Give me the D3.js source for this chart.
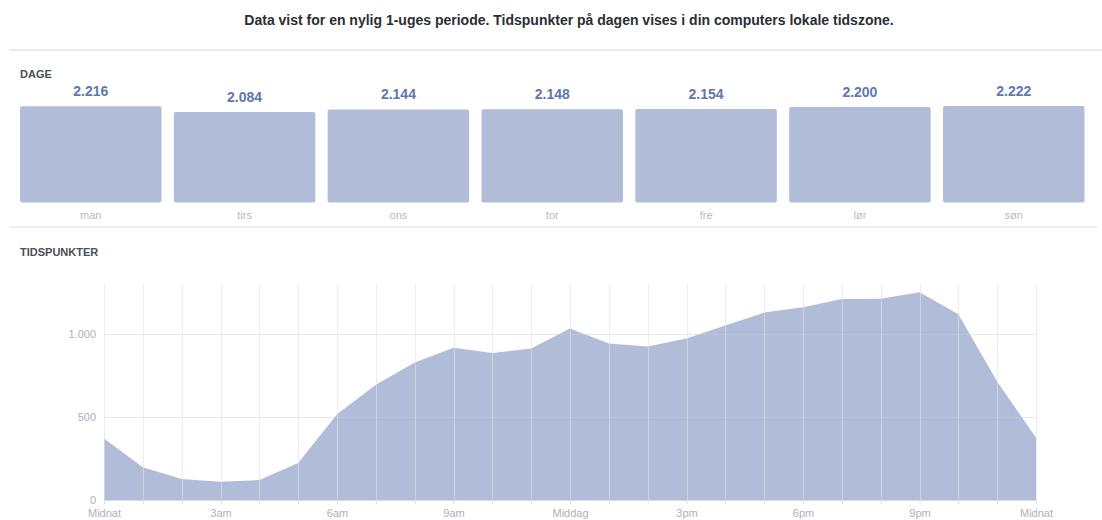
<!DOCTYPE html>
<html>
<head>
<meta charset="utf-8">
<script src="https://cdn.jsdelivr.net/npm/d3@7"></script>
<style>
  body { margin: 0; background: #fff; }
  svg { display: block; font-family: "Liberation Sans", Arial, sans-serif; }
</style>
</head>
<body>
<div id="chart-container"></div>
<script>
// Days of the week and their counts
const days = ["man", "tirs", "ons", "tor", "fre", "lør", "søn"];
const dayValues = [2216, 2084, 2144, 2148, 2154, 2200, 2222];

// Hourly values, midnight to midnight (25 points)
const hours = d3.range(0, 25);
const hourValues = [370, 197, 127, 110, 120, 223, 516, 693, 827, 916, 885, 912,
  1032, 942, 924, 972, 1050, 1128, 1160, 1209, 1211, 1251, 1118, 713, 375];

// Tick labels
const hourTicks = [0, 3, 6, 9, 12, 15, 18, 21, 24];
const hourTickLabels = ["Midnat", "3am", "6am", "9am", "Middag", "3pm", "6pm", "9pm", "Midnat"];
const valueTicks = [0, 500, 1000];

const title = "Data vist for en nylig 1-uges periode. Tidspunkter på dagen vises i din computers lokale tidszone.";

const width = 1102, height = 520;
const da = d3.formatLocale({ decimal: ",", thousands: ".", grouping: [3], currency: ["", " kr."] });
const fmt = da.format(",d");

const barColor = "#b1bdd8";

const svg = d3.select("#chart-container")
  .append("svg")
  .attr("width", width)
  .attr("height", height);

// Headline
svg.append("text")
  .attr("x", 569)
  .attr("y", 25)
  .attr("text-anchor", "middle")
  .style("font-size", "14px")
  .style("font-weight", "bold")
  .style("fill", "#2b2e33")
  .text(title);

// Separators
svg.append("line")
  .attr("x1", 9).attr("x2", width)
  .attr("y1", 50).attr("y2", 50)
  .attr("stroke", "#e9eaed").attr("stroke-width", 2);

svg.append("line")
  .attr("x1", 9).attr("x2", 1097)
  .attr("y1", 227).attr("y2", 227)
  .attr("stroke", "#e9eaed").attr("stroke-width", 1.5);

// Section labels
svg.append("text")
  .attr("x", 20).attr("y", 78)
  .style("font-size", "11px").style("font-weight", "bold")
  .style("fill", "#4b4f56")
  .text("DAGE");

svg.append("text")
  .attr("x", 20).attr("y", 256)
  .style("font-size", "11px").style("font-weight", "bold")
  .style("fill", "#4b4f56")
  .text("TIDSPUNKTER");

// ---- Days bar chart ----
const xDay = d3.scaleBand()
  .domain(days)
  .range([20, 1084.5])
  .paddingInner(0.08)
  .paddingOuter(0);

const yDay = d3.scaleLinear()
  .domain([0, d3.max(dayValues)])
  .range([202.5, 106]);

const dayData = days.map((d, i) => ({ day: d, count: dayValues[i] }));

svg.selectAll("rect.day")
  .data(dayData)
  .enter()
  .append("rect")
  .attr("class", "day")
  .attr("x", d => xDay(d.day))
  .attr("y", d => yDay(d.count))
  .attr("width", xDay.bandwidth())
  .attr("height", d => yDay(0) - yDay(d.count))
  .attr("rx", 2)
  .attr("fill", barColor);

svg.selectAll("text.val")
  .data(dayData)
  .enter()
  .append("text")
  .attr("class", "val")
  .attr("x", d => xDay(d.day) + xDay.bandwidth() / 2)
  .attr("y", d => yDay(d.count) - 10)
  .attr("text-anchor", "middle")
  .style("font-size", "14px")
  .style("font-weight", "bold")
  .style("fill", "#6177ab")
  .text(d => fmt(d.count));

svg.selectAll("text.dayname")
  .data(dayData)
  .enter()
  .append("text")
  .attr("class", "dayname")
  .attr("x", d => xDay(d.day) + xDay.bandwidth() / 2)
  .attr("y", 219)
  .attr("text-anchor", "middle")
  .style("font-size", "11px")
  .style("fill", "#b7bac0")
  .text(d => d.day);

// ---- Hours area chart ----
const xHour = d3.scaleLinear()
  .domain([0, 24])
  .range([104, 1036]);

const yHour = d3.scaleLinear()
  .domain([0, 1300])
  .range([500, 284]);

const hourData = hours.map((h, i) => ({ hour: h, count: hourValues[i] }));

const area = d3.area()
  .x(d => xHour(d.hour))
  .y0(yHour(0))
  .y1(d => yHour(d.count));

svg.append("path")
  .datum(hourData)
  .attr("d", area)
  .attr("fill", barColor);

// Vertical grid (every hour)
svg.selectAll("line.vgrid")
  .data(hours)
  .enter()
  .append("line")
  .attr("class", "vgrid")
  .attr("x1", d => Math.round(xHour(d)) + 0.5)
  .attr("x2", d => Math.round(xHour(d)) + 0.5)
  .attr("y1", yHour(1300))
  .attr("y2", yHour(0))
  .attr("stroke", "#dfe1e6")
  .attr("stroke-opacity", 0.6);

// Horizontal grid
svg.selectAll("line.hgrid")
  .data(valueTicks.filter(d => d > 0))
  .enter()
  .append("line")
  .attr("class", "hgrid")
  .attr("x1", xHour(0))
  .attr("x2", xHour(24))
  .attr("y1", d => Math.round(yHour(d)) + 0.5)
  .attr("y2", d => Math.round(yHour(d)) + 0.5)
  .attr("stroke", "#c9cdd8")
  .attr("stroke-opacity", 0.45);

// Baseline axis
const xAxis = d3.axisBottom(xHour)
  .tickValues(hours)
  .tickSize(4)
  .tickFormat(d => {
    const k = hourTicks.indexOf(d);
    return k >= 0 ? hourTickLabels[k] : "";
  });

const gx = svg.append("g")
  .attr("transform", "translate(0," + yHour(0) + ")")
  .call(xAxis);

gx.select(".domain").attr("stroke", "#dddfe2");
gx.selectAll(".tick line").attr("stroke", "#dddfe2");
gx.selectAll(".tick text")
  .attr("y", 9)
  .style("font-family", "Liberation Sans, Arial, sans-serif")
  .style("font-size", "11px")
  .style("fill", "#aeb1b7");

// Y axis labels
const yAxis = d3.axisLeft(yHour)
  .tickValues(valueTicks)
  .tickSize(0)
  .tickPadding(8)
  .tickFormat(fmt);

const gy = svg.append("g")
  .attr("transform", "translate(" + xHour(0) + ",0)")
  .call(yAxis);

gy.select(".domain").remove();
gy.selectAll(".tick text")
  .style("font-family", "Liberation Sans, Arial, sans-serif")
  .style("font-size", "11px")
  .style("fill", "#aeb1b7");
</script>
</body>
</html>
